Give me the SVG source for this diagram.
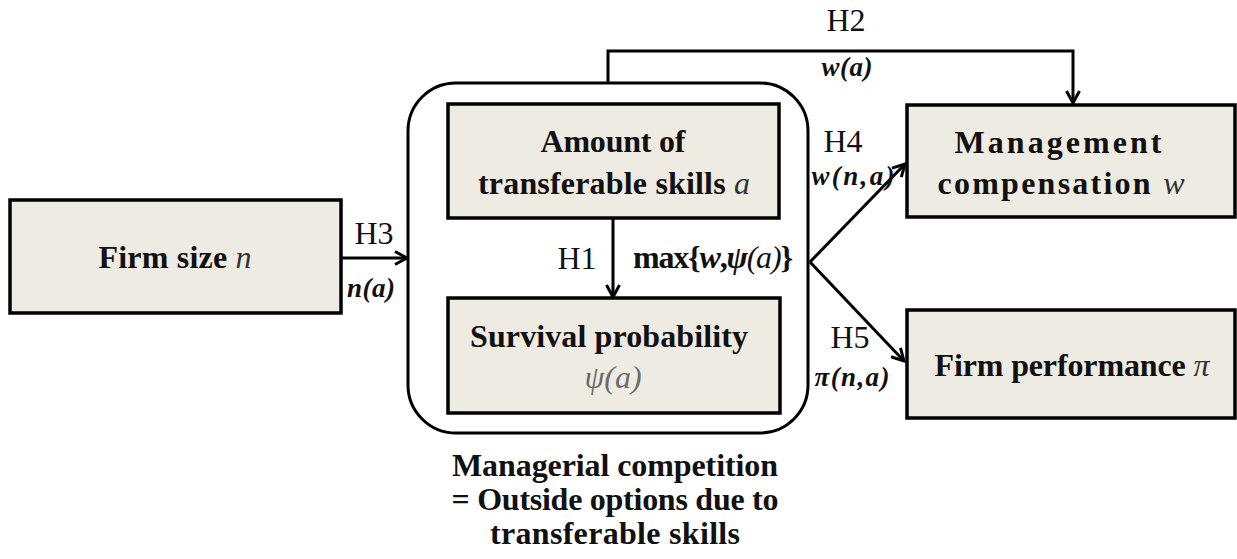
<svg xmlns="http://www.w3.org/2000/svg" width="1237" height="559" viewBox="0 0 1237 559">
<style>
.box{fill:#EEEBE3;stroke:#000;stroke-width:3.5}
.cont{fill:none;stroke:#000;stroke-width:3}
.t{font-family:"Liberation Serif","Times New Roman",serif;font-size:32px;font-weight:bold;fill:#111;text-anchor:middle}
.h{font-family:"Liberation Serif","Times New Roman",serif;font-size:32px;fill:#111;text-anchor:middle}
.lab{font-family:"Liberation Serif","Times New Roman",serif;font-size:27px;font-weight:bold;font-style:italic;fill:#111;text-anchor:middle}
.v{font-style:italic;font-weight:normal;fill:#333}
.g{font-style:italic;font-weight:normal;fill:#6b6b6b}
.c{fill:none;stroke:#000;stroke-width:3}
</style>
<defs>
<marker id="ah" viewBox="0 0 16 16" refX="14" refY="8" markerWidth="16" markerHeight="16" markerUnits="userSpaceOnUse" orient="auto">
<path d="M2,1.5 L14,8 L2,14.5" fill="none" stroke="#000" stroke-width="3"/>
</marker>
</defs>
<rect width="1237" height="559" fill="#fff"/>
<g id="container">
<rect class="cont" x="408" y="83" width="400" height="350" rx="48"/>
<text class="t" x="615" y="476" textLength="326" lengthAdjust="spacing">Managerial competition</text>
<text class="t" x="615" y="510" textLength="327" lengthAdjust="spacing">= Outside options due to</text>
<text class="t" x="615" y="544" textLength="250" lengthAdjust="spacing">transferable skills</text>
</g>
<g id="firm-size">
<rect class="box" x="10" y="200" width="331" height="113"/>
<text class="t" x="175" y="268" textLength="153" lengthAdjust="spacing">Firm size <tspan class="v">n</tspan></text>
</g>
<g id="transferable-skills">
<rect class="box" x="448" y="104" width="331" height="114"/>
<text class="t" x="613" y="152" textLength="145" lengthAdjust="spacing">Amount of</text>
<text class="t" x="614" y="194" textLength="272" lengthAdjust="spacing">transferable skills <tspan class="v">a</tspan></text>
</g>
<g id="survival">
<rect class="box" x="448" y="298" width="332" height="115"/>
<text class="t" x="609" y="347" textLength="278" lengthAdjust="spacing">Survival probability</text>
<text class="t" x="613" y="388"><tspan class="g">ψ(a)</tspan></text>
</g>
<g id="management-compensation">
<rect class="box" x="907" y="105" width="328" height="112"/>
<text class="t" x="1058" y="153" textLength="207" lengthAdjust="spacing">Management</text>
<text class="t" x="1061" y="194" textLength="247" lengthAdjust="spacing">compensation <tspan class="v">w</tspan></text>
</g>
<g id="firm-performance">
<rect class="box" x="907" y="310" width="328" height="108"/>
<text class="t" x="1072" y="376" textLength="275" lengthAdjust="spacing">Firm performance <tspan class="v">π</tspan></text>
</g>
<g id="connectors">
<path class="c" d="M341,258 L407,258" marker-end="url(#ah)"/>
<path class="c" d="M613,218 L613,297" marker-end="url(#ah)"/>
<path class="c" d="M608,83 L608,51 L1073,51 L1073,103" marker-end="url(#ah)"/>
<path class="c" d="M810,262 L905,164" marker-end="url(#ah)"/>
<path class="c" d="M810,262 L904,361" marker-end="url(#ah)"/>
<text class="h" x="846" y="31">H2</text>
<text class="lab" x="847" y="76" textLength="51" lengthAdjust="spacing">w(a)</text>
<text class="h" x="374" y="244">H3</text>
<text class="lab" x="371" y="297" textLength="48" lengthAdjust="spacing">n(a)</text>
<text class="h" x="577" y="269">H1</text>
<text class="t" x="713" y="268" textLength="160" lengthAdjust="spacing">max{<tspan font-style="italic">w</tspan>,<tspan font-style="italic">ψ</tspan><tspan font-style="italic" font-weight="normal">(a)</tspan>}</text>
<text class="h" x="843" y="152">H4</text>
<text class="lab" x="853" y="185" font-size="24" textLength="83" lengthAdjust="spacing">w(n,a)</text>
<text class="h" x="850" y="348">H5</text>
<text class="lab" x="852" y="386" textLength="75" lengthAdjust="spacing">π(n,a)</text>
</g>
</svg>
